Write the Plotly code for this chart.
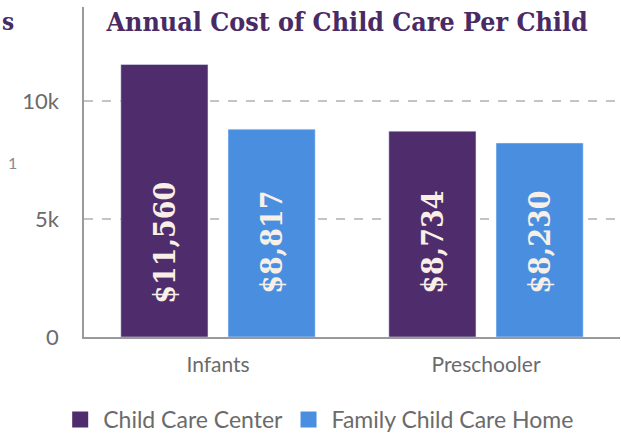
import plotly.graph_objects as go

# data
categorias = ["Infants", "Preschooler"]
centro = [11560, 8734]
familia = [8817, 8230]
rotulos_centro = ["$11,560", "$8,734"]
rotulos_familia = ["$8,817", "$8,230"]
nomes = ["Child Care Center", "Family Child Care Home"]

roxo = "#4f2c6b"
azul = "#4a8ee0"
fonte_serif = "DejaVu Serif Condensed, DejaVu Serif, Liberation Serif, serif"
fonte_sans = "Lato, Noto Sans, sans-serif"

fig = go.Figure()

fig.add_trace(go.Bar(x=categorias, y=centro, name=nomes[0],
                     marker=dict(color=roxo), showlegend=False))
fig.add_trace(go.Bar(x=categorias, y=familia, name=nomes[1],
                     marker=dict(color=azul), showlegend=False))

# legend entries with bigger squares, one legend per entry to control spacing
for nome, cor, leg in zip(nomes, [roxo, azul], ["legend", "legend2"]):
    fig.add_trace(go.Scatter(x=[None], y=[None], mode="markers", name=nome,
                             legend=leg,
                             marker=dict(symbol="square", size=22, color=cor)))

# rotated value labels inside the bars
anotacoes = []
for cat, txt_c, txt_f in zip(categorias, rotulos_centro, rotulos_familia):
    for txt, deslocamento in [(txt_c, -53), (txt_f, 54)]:
        anotacoes.append(dict(
            x=cat, y=4000, xref="x", yref="y", text="<b>" + txt + "</b>",
            showarrow=False, textangle=-90, xshift=deslocamento,
            font=dict(family=fonte_serif, size=30, color="#f8efe8")
        ))

# fragments at the left edge of the original image
larg = 621 - 84 - 1
alt = 435 - 7 - 98
anotacoes.append(dict(x=-84 / larg, y=(337 - 22) / alt, xref="paper", yref="paper",
                      xanchor="left", yanchor="middle", text="<b>s</b>", showarrow=False,
                      font=dict(family=fonte_serif, size=24, color="#4a2a65")))
anotacoes.append(dict(x=-78 / larg, y=(337 - 162) / alt, xref="paper", yref="paper",
                      xanchor="left", yanchor="middle", text="1", showarrow=False,
                      font=dict(family=fonte_sans, size=16, color="#8a8a8a")))

estilo_legenda = dict(orientation="h", xanchor="left", y=-0.25, yanchor="middle",
                      font=dict(family=fonte_sans, size=23, color="#6b6b6b"),
                      itemsizing="trace", itemwidth=36, bgcolor="rgba(0,0,0,0)")

fig.update_layout(
    width=621, height=435,
    margin=dict(l=84, r=1, t=7, b=98, autoexpand=False),
    paper_bgcolor="white", plot_bgcolor="white",
    barmode="group", bargap=0.2, bargroupgap=0.187,
    title=dict(text="<b>Annual Cost of Child Care Per Child</b>",
               x=0.559, xanchor="center", y=1 - 22 / 435, yanchor="middle",
               font=dict(family=fonte_serif, size=26.6, color="#4a2a65")),
    xaxis=dict(showline=True, linecolor="#9a9a9a", linewidth=1.5,
               tickfont=dict(family=fonte_sans, size=21, color="#6b6b6b"),
               ticklabelstandoff=8, showgrid=False, automargin=False),
    yaxis=dict(range=[0, 14000], tickvals=[0, 5000, 10000],
               ticktext=["0", "5k", "10k"],
               showline=True, linecolor="#9a9a9a", linewidth=1.5,
               showgrid=True, gridcolor="#c4c4c4", griddash="dash", gridwidth=1.5,
               zeroline=False, automargin=False,
               tickfont=dict(family=fonte_sans, size=22, color="#6b6b6b"),
               ticklabelstandoff=19),
    legend=dict(x=-0.05, **estilo_legenda),
    legend2=dict(x=0.376, **estilo_legenda),
    annotations=anotacoes,
)

# the page body has a default 8px margin; remove it so the figure fills the window
fig.write_html("out.html", config={"displayModeBar": False},
               post_script="document.body.style.margin='0';")
